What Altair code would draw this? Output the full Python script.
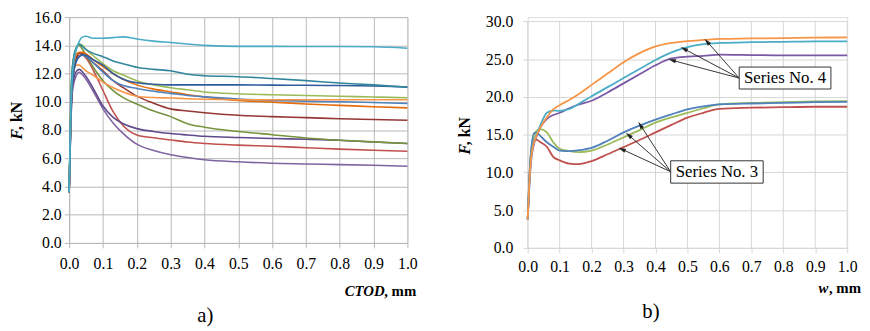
import math
import altair as alt
import pandas as pd

# ---------------- panel a) : F vs CTOD ----------------
xa = [0, 0.005, 0.01, 0.02, 0.03, 0.04, 0.05, 0.07, 0.1, 0.13, 0.16, 0.2,
      0.25, 0.3, 0.35, 0.4, 0.5, 0.6, 0.7, 0.8, 0.9, 1.0]
a_cyan = [3.6, 9.5, 12.0, 13.6, 14.3, 14.6, 14.65, 14.5, 14.5, 14.55, 14.6, 14.45,
          14.3, 14.2, 14.1, 14.0, 13.93, 13.93, 13.92, 13.92, 13.9, 13.8]
a_teal = [3.6, 10.0, 12.5, 13.8, 14.1, 13.9, 13.7, 13.45, 13.2, 12.9, 12.7, 12.45,
          12.3, 12.2, 11.95, 11.85, 11.78, 11.65, 11.5, 11.33, 11.2, 11.03]
a_darkblue = [3.6, 9.0, 11.5, 12.8, 13.2, 13.35, 13.3, 13.0, 12.6, 12.0, 11.6, 11.35,
              11.25, 11.2, 11.2, 11.2, 11.2, 11.18, 11.17, 11.15, 11.12, 11.05]
a_lightgreen = [3.6, 10.0, 12.5, 13.8, 14.1, 14.0, 13.7, 13.3, 12.7, 12.2, 11.9, 11.5,
                11.2, 11.0, 10.85, 10.7, 10.57, 10.5, 10.45, 10.4, 10.34, 10.29]
a_orange = [3.6, 9.5, 11.8, 12.6, 12.6, 12.4, 12.2, 11.9, 11.4, 11.0, 10.7, 10.4,
            10.3, 10.27, 10.22, 10.18, 10.15, 10.15, 10.15, 10.15, 10.15, 10.15]
a_blue = [3.6, 9.0, 11.5, 12.8, 13.2, 13.3, 13.2, 12.8, 12.1, 11.5, 11.15, 10.95,
          10.75, 10.6, 10.45, 10.35, 10.2, 10.1, 10.05, 10.0, 9.95, 9.88]
a_darkorange = [3.6, 9.5, 12.0, 13.3, 13.5, 13.5, 13.4, 13.0, 12.5, 12.0, 11.6, 11.2,
                10.9, 10.7, 10.5, 10.35, 10.1, 9.98, 9.85, 9.75, 9.65, 9.57]
a_darkred = [3.6, 9.0, 11.5, 13.0, 13.45, 13.4, 13.2, 12.8, 12.2, 11.5, 11.0, 10.4,
             9.9, 9.5, 9.35, 9.23, 9.05, 8.95, 8.88, 8.8, 8.75, 8.69]
a_olive = [3.6, 10.0, 12.5, 13.7, 14.0, 13.7, 13.3, 12.5, 11.5, 10.8, 10.3, 9.85,
           9.35, 8.95, 8.45, 8.2, 7.9, 7.67, 7.44, 7.28, 7.16, 7.05]
a_purple = [3.6, 8.5, 11.0, 12.1, 12.3, 12.1, 11.8, 11.0, 9.7, 8.9, 8.45, 8.1,
            7.9, 7.75, 7.65, 7.56, 7.47, 7.4, 7.35, 7.28, 7.15, 7.05]
a_red = [3.6, 9.0, 11.5, 12.9, 13.3, 13.3, 13.1, 12.3, 10.8, 9.3, 8.3, 7.65,
         7.45, 7.3, 7.15, 7.05, 6.93, 6.85, 6.75, 6.65, 6.57, 6.5]
a_lightpurple = [3.6, 8.5, 10.8, 11.8, 12.1, 11.9, 11.6, 10.8, 9.5, 8.5, 7.75, 7.0,
                 6.55, 6.25, 6.05, 5.9, 5.75, 5.65, 5.6, 5.55, 5.5, 5.43]

a_names = ["a01", "a02", "a03", "a04", "a05", "a06", "a07", "a08", "a09", "a10", "a11", "a12"]
a_values = [a_lightpurple, a_red, a_purple, a_olive, a_darkred, a_darkorange, a_blue,
            a_orange, a_lightgreen, a_darkblue, a_teal, a_cyan]
a_colors = ["#8064A2", "#C0504D", "#5F4B8B", "#77933C", "#953735", "#E46C0A", "#4F81BD",
            "#F79646", "#9BBB59", "#2F5C9E", "#31859C", "#4BACC6"]

# ---------------- panel b) : F vs w ----------------
xb = [0, 0.005, 0.01, 0.02, 0.03, 0.04, 0.06, 0.08, 0.1, 0.13, 0.16, 0.2, 0.25,
      0.3, 0.35, 0.4, 0.45, 0.5, 0.55, 0.6, 0.7, 0.8, 0.9, 1.0]
b_orange = [3.8, 8.5, 11.6, 14.0, 15.1, 16.0, 17.3, 18.35, 18.9, 19.6, 20.4, 21.6, 23.1,
            24.6, 25.8, 26.7, 27.15, 27.4, 27.55, 27.7, 27.75, 27.8, 27.85, 27.9]
b_cyan = [3.8, 8.5, 11.8, 14.2, 15.3, 16.3, 17.9, 18.2, 18.15, 18.4, 19.1, 20.1, 21.3,
          22.5, 23.7, 24.9, 25.9, 26.6, 27.0, 27.15, 27.25, 27.3, 27.35, 27.35]
b_purple = [3.8, 8.0, 11.2, 13.8, 15.0, 16.0, 17.1, 17.6, 17.9, 18.5, 19.0, 19.5, 20.6,
            21.8, 23.0, 24.2, 25.1, 25.35, 25.45, 25.6, 25.55, 25.5, 25.5, 25.5]
b_blue = [3.8, 9.0, 12.5, 15.2, 15.2, 14.8, 14.0, 13.4, 12.9, 12.83, 12.95, 13.26, 14.2,
          15.3, 16.2, 17.0, 17.7, 18.35, 18.75, 19.0, 19.13, 19.2, 19.3, 19.35]
b_green = [3.8, 9.0, 12.5, 15.0, 15.6, 15.74, 15.3, 14.0, 13.13, 12.83, 12.7, 12.9, 13.7,
           14.65, 15.6, 16.6, 17.3, 17.9, 18.5, 19.0, 19.2, 19.3, 19.4, 19.45]
b_red = [3.8, 9.0, 12.5, 14.4, 14.3, 14.0, 13.4, 12.05, 11.6, 11.17, 11.1, 11.5, 12.4,
         13.35, 14.3, 15.3, 16.3, 17.26, 17.9, 18.43, 18.57, 18.65, 18.7, 18.7]

b_names = ["b1", "b2", "b3", "b4", "b5", "b6"]
b_values = [b_red, b_green, b_blue, b_purple, b_cyan, b_orange]
b_colors = ["#C0504D", "#9BBB59", "#4F81BD", "#7A58A6", "#4BACC6", "#F79646"]

# annotation (data coordinates of panel b)
s4_label = "Series No. 4"
s4_box = [0.662, 0.949, 21.05, 23.96]
s4_tail = [0.662, 22.5]
s4_heads = [[0.562, 27.3], [0.49, 26.35], [0.453, 24.84]]
s3_label = "Series No. 3"
s3_box = [0.4475, 0.737, 8.58, 11.54]
s3_tail = [0.447, 10.1]
s3_heads = [[0.353, 16.25], [0.317, 14.9], [0.296, 13.05]]

SERIF = "Liberation Serif, Times New Roman, DejaVu Serif, serif"
WA, HA = 343, 229
WB = 324
HB = 234.0
B_TOP = 30.0 * HB / 229.6   # scale top of panel b (plot area extends a little above 30)
PXY_B = HB / B_TOP          # pixels per kN in panel b


def long_df(xs, names, vals):
    rows = []
    for n, v in zip(names, vals):
        for i, (x, y) in enumerate(zip(xs, v)):
            rows.append({"s": n, "x": x, "y": y, "i": i})
    return pd.DataFrame(rows)


def txt(text, x, y, size, weight="normal", style="normal", align="center", angle=0, color="black"):
    return alt.Chart(pd.DataFrame({"t": [text]})).mark_text(
        font=SERIF, fontSize=size, fontWeight=weight, fontStyle=style, align=align,
        baseline="middle", angle=angle, color=color
    ).encode(x=alt.value(x), y=alt.value(y), text="t:N")


def axis(vals, grid_color, lsize, pad, grid=True, domain=True):
    return alt.Axis(values=vals, format=".1f", title=None, labelFont=SERIF, labelFontSize=lsize,
                    labelColor="black", grid=grid, gridColor=grid_color, gridWidth=1,
                    tickColor=grid_color, tickSize=5, domain=domain, domainColor=grid_color,
                    labelPadding=pad, labelFlush=False, labelOverlap=False)


xticks = [round(0.1 * i, 1) for i in range(11)]

# ---- chart a
dfa = long_df(xa, a_names, a_values)
lines_a = alt.Chart(dfa).mark_line(interpolate="monotone", strokeWidth=1.6).encode(
    x=alt.X("x:Q", scale=alt.Scale(domain=[0, 1], nice=False),
            axis=axis(xticks, "#B8B8B8", 16, 8)),
    y=alt.Y("y:Q", scale=alt.Scale(domain=[0, 16], nice=False),
            axis=axis([0, 2, 4, 6, 8, 10, 12, 14, 16], "#B8B8B8", 16, 3)),
    color=alt.Color("s:N", scale=alt.Scale(domain=a_names, range=a_colors), legend=None),
    order="i:Q",
)
chart_a = alt.layer(
    lines_a,
    txt("F", -53, 124, 16, "bold", "italic", "left", 270),
    txt(", kN", -53, 86, 16, "bold", "normal", "right", 270),
    txt("CTOD", 320, HA + 49, 15, "bold", "italic", "right"),
    txt(", mm", 352, HA + 49, 15, "bold", "normal", "right"),
    txt("a)", 138, HA + 74, 21),
).properties(width=WA, height=HA)

# ---- chart b
GB = "#D6D6D6"
xs_b = alt.Scale(domain=[0, 1], nice=False)
ys_b = alt.Scale(domain=[0, B_TOP], nice=False)
ax_bx = axis(xticks, GB, 16, 6, grid=False)
ax_by = axis([0, 5, 10, 15, 20, 25, 30], GB, 16, 10, grid=True, domain=False)


def XB(f):
    return alt.X(f, scale=xs_b, axis=ax_bx)


def YB(f):
    return alt.Y(f, scale=ys_b, axis=ax_by)


dfb = long_df(xb, b_names, b_values)
vgrid_df = pd.DataFrame({"x": xticks, "y": [0.0] * len(xticks), "y2": [30.0] * len(xticks)})
vgrid = alt.Chart(vgrid_df).mark_rule(color=GB, strokeWidth=1).encode(
    x=XB("x:Q"), y=YB("y:Q"), y2="y2:Q")

lines_b = alt.Chart(dfb).mark_line(interpolate="monotone", strokeWidth=1.8).encode(
    x=XB("x:Q"), y=YB("y:Q"),
    color=alt.Color("s:N", scale=alt.Scale(domain=b_names, range=b_colors), legend=None),
    order="i:Q",
)


def angle_of(tail, head):
    dx = (head[0] - tail[0]) * WB
    dy = -(head[1] - tail[1]) * PXY_B
    return (math.degrees(math.atan2(dx, -dy)) + 360) % 360


arrows = []
heads = []
for tail, hs in [(s4_tail, s4_heads), (s3_tail, s3_heads)]:
    for h in hs:
        arrows.append({"x": tail[0], "y": tail[1], "x2": h[0], "y2": h[1]})
        heads.append({"x": h[0], "y": h[1], "a": angle_of(tail, h)})
arr_df = pd.DataFrame(arrows)
head_df = pd.DataFrame(heads)
box_df = pd.DataFrame([
    {"x": s4_box[0], "x2": s4_box[1], "y": s4_box[2], "y2": s4_box[3], "t": s4_label,
     "cx": (s4_box[0] + s4_box[1]) / 2, "cy": (s4_box[2] + s4_box[3]) / 2},
    {"x": s3_box[0], "x2": s3_box[1], "y": s3_box[2], "y2": s3_box[3], "t": s3_label,
     "cx": (s3_box[0] + s3_box[1]) / 2, "cy": (s3_box[2] + s3_box[3]) / 2},
])

arrow_lines = alt.Chart(arr_df).mark_rule(color="#333333", strokeWidth=1).encode(
    x=XB("x:Q"), y=YB("y:Q"), x2="x2:Q", y2="y2:Q")
arrow_heads = alt.Chart(head_df).mark_point(
    shape="M0,-1L0.5,0.8L-0.5,0.8Z", filled=True, color="#222222", opacity=1, size=70
).encode(x=XB("x:Q"), y=YB("y:Q"), angle=alt.Angle("a:Q", scale=None))
boxes = alt.Chart(box_df).mark_rect(fill="white", stroke="#333333", strokeWidth=1).encode(
    x=XB("x:Q"), x2="x2:Q", y=YB("y:Q"), y2="y2:Q")
box_text = alt.Chart(box_df).mark_text(font=SERIF, fontSize=17, color="black", baseline="middle").encode(
    x=XB("cx:Q"), y=YB("cy:Q"), text="t:N")

TOP_B = HB - 30 * PXY_B   # pixel offset of the 30 kN line
chart_b = alt.layer(
    vgrid, lines_b, arrow_lines, arrow_heads, boxes, box_text,
    txt("F", -64, TOP_B + 135, 16, "bold", "italic", "left", 270),
    txt(", kN", -64, TOP_B + 97, 16, "bold", "normal", "right", 270),
    txt("w", WB - 19, HB + 41, 15, "bold", "italic", "right"),
    txt(", mm", WB + 14, HB + 41, 15, "bold", "normal", "right"),
    txt("b)", 125, HB + 65, 21),
).properties(width=WB, height=HB)

chart = alt.hconcat(chart_a, chart_b, spacing=38).resolve_scale(color="independent").properties(
    padding={"left": 0, "top": -2, "right": 0, "bottom": 0}
).configure_view(stroke=None).configure(background="white")

chart.save("out.html", embed_options={"renderer": "svg", "actions": False})
